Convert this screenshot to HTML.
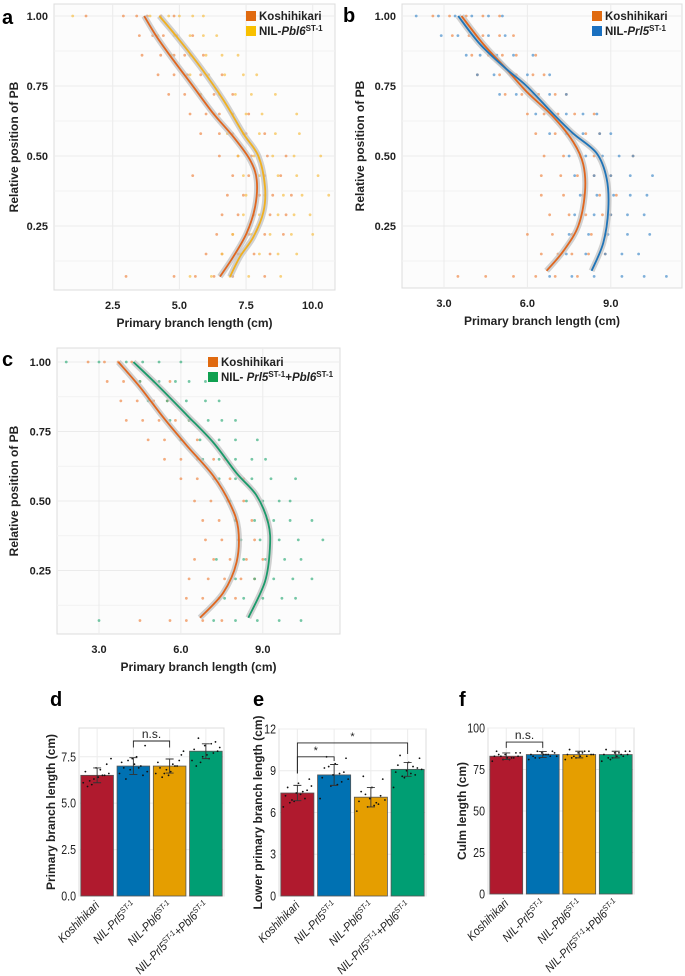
<!DOCTYPE html>
<html><head><meta charset="utf-8">
<style>
body{margin:0;background:#fff;}
svg{display:block;font-family:"Liberation Sans",sans-serif;}
</style></head>
<body>
<svg id="fig" width="685" height="976" viewBox="0 0 685 976" xmlns="http://www.w3.org/2000/svg"></svg>
<script>
// ---------- data: scatter panels ----------
const levels = [1.0,0.93,0.86,0.79,0.72,0.65,0.58,0.5,0.43,0.36,0.29,0.22,0.15,0.07];
const koshA_dots = [[2.9,3.4,3.8,4.3,4.8,1.5],[3.5,4.0,4.4,4.9,5.5],[3.6,4.3,4.8,5.2,5.9],[4.2,4.8,5.3,5.8,6.6],[4.6,5.2,5.8,6.3,7.0],[5.4,6.0,6.5,7.0,7.6],[5.8,6.5,7.0,7.5,8.2],[6.5,7.2,7.7,8.3,9.0],[5.5,7.0,7.6,8.2,8.8],[6.8,7.4,8.0,8.5,9.2],[6.6,7.2,7.8,8.4,9.0],[6.4,7.0,7.6,8.2,8.9],[6.0,6.6,7.2,7.8,8.4],[3.0,4.8,5.6,6.3,7.0,8.2]];
const pbl6A_dots = [[3.9,4.6,5.0,5.5,5.9,1.0],[4.2,4.8,5.4,5.9,6.4],[4.7,5.4,6.0,6.6,7.2],[5.4,6.1,6.7,7.4,7.9],[5.8,6.5,7.1,7.7,8.6],[6.3,7.0,7.5,8.1,9.4],[6.8,7.4,8.0,8.6,9.5],[7.2,7.8,8.5,9.3,10.3],[7.4,8.0,8.7,9.4,10.2],[7.5,8.2,8.9,9.6,10.6],[7.4,8.0,8.7,9.3,9.9],[7.0,7.7,8.4,9.2,10.0],[6.6,7.3,8.0,8.7,9.4],[5.4,6.2,6.9,7.6,8.8]];
const koshB_dots = [[2.6,3.2,3.8,4.4,5.0],[3.3,3.9,4.4,5.0,5.5],[4.0,4.6,5.1,5.6,6.3],[4.2,5.0,5.6,6.2,6.6],[5.2,5.8,6.4,7.0,7.4],[6.0,6.6,7.1,7.7,8.4],[6.3,7.0,7.6,8.1,8.6],[6.6,7.3,7.9,8.4,9.8],[6.5,7.2,7.8,8.4,9.0],[6.5,7.3,8.0,8.6,9.2],[6.8,7.5,8.1,8.7,9.0],[6.0,6.9,7.6,8.3,8.8],[6.5,7.1,7.6,8.2,8.8],[3.5,4.5,5.5,6.3,7.0,7.8]];
const prl5B_dots = [[2.0,2.8,3.4,4.0,4.6,5.1],[2.9,3.5,4.1,4.6,5.2],[3.8,4.3,4.9,5.5,6.2],[4.2,4.8,5.4,6.0,6.8],[5.0,5.6,6.2,6.8,7.4],[6.3,6.9,7.4,8.0,8.5],[6.8,7.4,8.0,8.6,9.0],[7.5,8.1,8.7,9.3,9.8],[7.7,8.4,9.0,9.7,10.5],[7.9,8.5,9.1,9.7,10.3],[7.7,8.4,9.0,9.6,10.2],[7.5,8.2,8.9,9.6,10.4],[7.4,8.1,8.8,9.4,10.0],[6.8,7.6,8.4,9.4,10.2,11.0]];
const koshC_dots = [[2.6,3.2,3.7,4.2],[3.3,3.9,4.5,5.0,5.6],[3.8,4.4,5.0,5.5],[4.0,4.6,5.2,5.8,6.3],[4.8,5.4,6.0,6.6],[5.4,6.0,6.6,7.2,7.6],[6.0,6.6,7.2,7.8,8.3],[6.5,7.1,7.7,8.3],[6.8,7.4,8.0,8.6,9.2],[6.9,7.5,8.1,8.7],[6.5,7.2,7.8,8.4,9.0],[6.3,7.0,7.6,8.2,8.7],[6.2,6.8,7.4,8.0],[4.5,5.6,6.2,6.8,7.5]];
const combC_dots = [[1.8,3.0,4.0,4.6,5.2,6.0],[4.5,5.2,5.8,6.3,6.9],[4.8,5.5,6.2,6.9,7.4],[5.6,6.3,7.0,7.5,8.0],[6.0,6.7,7.4,8.0,8.8],[6.8,7.4,8.0,8.6,9.1],[7.4,8.0,8.6,9.3,10.2],[7.8,8.4,9.0,9.6,10.0],[8.0,8.7,9.4,10.0,10.8],[8.2,8.9,9.6,10.3,11.2],[7.3,8.3,9.1,9.8,10.4],[8.0,8.7,9.4,10.1,10.8],[7.6,8.3,9.0,9.7,10.2],[3.0,7.2,8.0,8.8,9.6,10.4]];
const koshA_curveY = [1.0,0.926,0.843,0.748,0.652,0.569,0.486,0.414,0.319,0.224,0.14,0.069];
const koshA_curveX = [3.68,4.15,4.77,5.52,6.27,7.02,7.65,7.90,7.84,7.52,7.02,6.52];
const pbl6A_curveY = [1.0,0.926,0.82,0.70,0.58,0.50,0.39,0.30,0.21,0.14,0.069];
const pbl6A_curveX = [4.25,4.9,5.77,6.65,7.4,7.96,8.21,8.15,7.77,7.27,6.9];
const koshB_curveY = [1.0,0.9,0.81,0.73,0.64,0.55,0.47,0.37,0.25,0.16,0.09];
const koshB_curveX = [3.63,4.41,5.25,5.97,6.93,7.65,8.01,8.07,7.83,7.29,6.69];
const prl5B_curveY = [1.0,0.9,0.81,0.75,0.65,0.58,0.51,0.42,0.31,0.19,0.09];
const prl5B_curveX = [3.51,4.29,5.25,5.97,6.93,7.65,8.49,8.85,8.91,8.73,8.31];
const koshC_curveY = [1.0,0.91,0.80,0.70,0.59,0.49,0.40,0.28,0.17,0.08];
const koshC_curveX = [3.71,4.5,5.36,6.21,7.19,7.8,8.1,8.04,7.55,6.7];
const combC_curveY = [1.0,0.92,0.81,0.71,0.60,0.52,0.42,0.33,0.21,0.08];
const combC_curveX = [4.26,5.11,6.21,7.19,8.04,8.77,9.2,9.26,9.08,8.47];
const ticksA_x = [2.5,5.0,7.5,10.0];
const ticksBC_x = [3.0,6.0,9.0];
const ticks_y = [0.25,0.50,0.75,1.00];
// ---------- data: bar panels ----------
const barCats = ["Koshihikari","NIL-Prl5","NIL-Pbl6","NIL-Prl5+Pbl6"];
const barD = [6.5,7.0,7.0,7.8];
const sdD = [0.4,0.45,0.38,0.4];
const barE = [7.4,8.7,7.1,9.1];
const sdE = [0.55,0.75,0.7,0.5];
const barF = [83,84,84,84];
const sdF = [2,1.8,2,2];
const ptsD = [[6.1,6.3,6.5,6.7,6.9,7.1,5.9,6.4,6.6,6.2,6.8,7.4,6.0,6.5],[6.6,6.8,7.0,7.2,7.4,6.5,6.9,7.1,8.1,6.3,7.5,6.7,7.3,6.9],[6.6,6.8,7.0,7.2,6.5,7.3,6.9,6.7,7.6,6.4,7.1,7.8,6.6,7.0],[7.3,7.5,7.7,7.9,8.1,8.3,7.0,7.6,7.8,8.5,7.4,8.0,7.2,8.2]];
const ptsE = [[6.4,6.8,7.0,7.2,7.4,7.6,7.8,8.1,8.4,6.7,7.3,7.9,6.9,7.5],[7.0,7.9,8.2,8.5,8.7,8.9,9.2,9.5,9.9,10.0,8.0,8.4,9.3,8.8],[6.1,6.4,6.6,6.8,7.0,7.2,7.5,7.8,8.4,8.6,6.5,6.9,7.3,6.7],[7.8,8.5,8.7,8.9,9.0,9.2,9.4,9.6,9.9,10.1,8.8,9.1,8.6,9.3]];
const ptsF = [[80,81,82,83,84,85,86,82,83,84,81,85,83,82],[81,82,83,84,85,86,83,84,85,82,84,83,86,84],[81,82,83,84,85,86,87,83,84,82,85,84,83,86],[80,82,83,84,85,86,87,83,84,82,85,86,81,84]];

const NS="http://www.w3.org/2000/svg";
const svg=document.getElementById('fig');
function el(tag,attrs,parent,text){const e=document.createElementNS(NS,tag);for(const k in attrs)e.setAttribute(k,attrs[k]);if(text!==undefined)e.textContent=text;(parent||svg).appendChild(e);return e;}
function smoothPath(pts){let d=`M${pts[0][0]},${pts[0][1]}`;for(let i=0;i<pts.length-1;i++){const p0=pts[i-1]||pts[i],p1=pts[i],p2=pts[i+1],p3=pts[i+2]||p2;const c1=[p1[0]+(p2[0]-p0[0])/6,p1[1]+(p2[1]-p0[1])/6],c2=[p2[0]-(p3[0]-p1[0])/6,p2[1]-(p3[1]-p1[1])/6];d+=` C${c1[0]},${c1[1]} ${c2[0]},${c2[1]} ${p2[0]},${p2[1]}`;}return d;}

function scatterPanel(cfg){
  const g=el('g',{});
  
  
  const {L,R,T,B}=cfg;
  const sx=v=>cfg.x0px+(v-cfg.x0)*cfg.xu;
  const sy=v=>cfg.y1px+(1-v)*cfg.yu;
  const bg=el('rect',{x:L,y:T,width:R-L,height:B-T,fill:'#fcfcfc',stroke:'#dcdcdc','stroke-width':1},g);
  
  
  [0.125,0.375,0.625,0.875].forEach(v=>el('line',{x1:L,x2:R,y1:sy(v),y2:sy(v),stroke:'#f2f2f2'},g));
  ticks_y.forEach(v=>el('line',{x1:L,x2:R,y1:sy(v),y2:sy(v),stroke:'#ebebeb'},g));
  cfg.xt.forEach(v=>el('line',{x1:sx(v),x2:sx(v),y1:T,y2:B,stroke:'#ebebeb'},g));
  cfg.series.forEach(s=>{
    levels.forEach((lv,i)=>{
      s.dots[i].forEach(v=>{
        const c=el('circle',{cx:sx(v),cy:sy(lv),r:1.4,fill:s.dot,opacity:0.7},g);
        
        
      });
    });
  });
  cfg.series.forEach(s=>{
    const pts=s.cy.map((y,i)=>[sx(s.cx[i]),sy(y)]);
    const rib=el('path',{d:smoothPath(pts),fill:'none',stroke:'#bdbdbd','stroke-width':6,opacity:0.7,'stroke-linecap':'butt'},g);
    
    
  });
  cfg.series.forEach(s=>{
    const pts=s.cy.map((y,i)=>[sx(s.cx[i]),sy(y)]);
    const ln=el('path',{d:smoothPath(pts),fill:'none',stroke:s.line,'stroke-width':1.8},g);
    
    
  });
  ticks_y.forEach(v=>{const t=el('text',{x:L-6,y:sy(v)+4,'text-anchor':'end','font-size':11,'font-weight':'bold',fill:'#222'},g,v.toFixed(2));
    });
  cfg.xt.forEach(v=>{const t=el('text',{x:sx(v),y:B+19,'text-anchor':'middle','font-size':11,'font-weight':'bold',fill:'#222'},g,v.toFixed(1));
    });
  const xt=el('text',{x:(L+R)/2,y:B+37,'text-anchor':'middle','font-size':12,'font-weight':'bold',fill:'#222'},g,'Primary branch length (cm)');
  
  const yt=el('text',{x:0,y:0,'text-anchor':'middle','font-size':12,'font-weight':'bold',fill:'#222',transform:`translate(${cfg.ytx},${(T+B)/2}) rotate(-90)`},g,'Relative position of PB');
  
  const lt=el('text',{x:cfg.letX,y:cfg.letY,'font-size':20,'font-weight':'bold',fill:'#000'},g,cfg.letter);
  
  cfg.series.forEach((s,i)=>{
    const lg=el('g',{},g);
    
    
    const yy=cfg.legY+i*15;
    el('rect',{x:cfg.legX,y:yy-5,width:10,height:10,fill:s.leg},lg);
    const t=el('text',{x:cfg.legX+13,y:yy+4,'font-size':11.5,'font-weight':'bold',fill:'#222'},lg);
    t.innerHTML=s.label;
  });
}

scatterPanel({name:'panel-a',letter:'a',letX:2,letY:24,L:54,R:335,T:4,B:290,x0:2.5,x0px:112.7,xu:26.67,y1px:16,yu:280,xt:ticksA_x,ytx:18,legX:246,legY:16,
 series:[{key:'koshihikari',dots:koshA_dots,cx:koshA_curveX,cy:koshA_curveY,dot:'#f08a4a',line:'#e0661e',leg:'#e06a10',label:'Koshihikari'},
         {key:'pbl6',dots:pbl6A_dots,cx:pbl6A_curveX,cy:pbl6A_curveY,dot:'#f6c04a',line:'#f0b020',leg:'#f8c000',label:'NIL-<tspan font-style="italic">Pbl6</tspan><tspan dy="-4" font-size="8">ST-1</tspan>'}]});
scatterPanel({name:'panel-b',letter:'b',letX:343,letY:22,L:402,R:682,T:4,B:288,x0:3.0,x0px:444,xu:27.8,y1px:16,yu:280,xt:ticksBC_x,ytx:364,legX:592,legY:16,
 series:[{key:'koshihikari',dots:koshB_dots,cx:koshB_curveX,cy:koshB_curveY,dot:'#f08a4a',line:'#e0661e',leg:'#e06a10',label:'Koshihikari'},
         {key:'prl5',dots:prl5B_dots,cx:prl5B_curveX,cy:prl5B_curveY,dot:'#4a90cc',line:'#1f74b8',leg:'#1a70c0',label:'NIL-<tspan font-style="italic">Prl5</tspan><tspan dy="-4" font-size="8">ST-1</tspan>'}]});
scatterPanel({name:'panel-c',letter:'c',letX:2,letY:366,L:57,R:340,T:348,B:634,x0:3.0,x0px:99,xu:27.3,y1px:362,yu:278,xt:ticksBC_x,ytx:18,legX:208,legY:362,
 series:[{key:'koshihikari',dots:koshC_dots,cx:koshC_curveX,cy:koshC_curveY,dot:'#f08a4a',line:'#e0661e',leg:'#e06a10',label:'Koshihikari'},
         {key:'combo',dots:combC_dots,cx:combC_curveX,cy:combC_curveY,dot:'#3cb080',line:'#1a9a6a',leg:'#10a050',label:'NIL- <tspan font-style="italic">Prl5</tspan><tspan dy="-4" font-size="8">ST-1</tspan><tspan dy="4">+</tspan><tspan font-style="italic">Pbl6</tspan><tspan dy="-4" font-size="8">ST-1</tspan>'}]});

const barColors=['#b01a2e','#0071b2','#e59e00','#009e73'];
const catHTML=['<tspan font-style="italic">Koshihikari</tspan>',
 '<tspan font-style="italic">NIL-Prl5</tspan><tspan dy="-4" font-size="8" font-style="italic">ST-1</tspan>',
 '<tspan font-style="italic">NIL-Pbl6</tspan><tspan dy="-4" font-size="8" font-style="italic">ST-1</tspan>',
 '<tspan font-style="italic">NIL-Prl5</tspan><tspan dy="-4" font-size="8" font-style="italic">ST-1</tspan><tspan dy="4" font-style="italic">+Pbl6</tspan><tspan dy="-4" font-size="8" font-style="italic">ST-1</tspan>'];
function barPanel(cfg){
  const g=el('g',{});
  
  
  const {L,R,T,B,ymax}=cfg;
  const sy=v=>B-(v/ymax)*(B-T);
  const n=barCats.length, slot=(R-L)/n, bw=slot*0.9;
  const cx=i=>L+slot*(i+0.5);
  el('rect',{x:L,y:T,width:R-L,height:B-T,fill:'#fff',stroke:'#dcdcdc'},g);
  cfg.ticks.forEach(v=>{el('line',{x1:L,x2:R,y1:sy(v),y2:sy(v),stroke:'#ececec'},g);
    const t=el('text',{x:L-3,y:sy(v)+4.5,'text-anchor':'end','font-size':12.5,fill:'#222',transform:`translate(${(L-3)*0.15},0) scale(0.85,1)`},g,cfg.tickFmt(v));
    });
  barCats.forEach((c,i)=>el('line',{x1:cx(i),x2:cx(i),y1:T,y2:B,stroke:'#ececec'},g));
  cfg.vals.forEach((v,i)=>{
    const r=el('rect',{x:cx(i)-bw/2,y:sy(v),width:bw,height:B-sy(v),fill:barColors[i],stroke:'#555','stroke-width':0.8},g);
    
    
  });
  cfg.pts.forEach((arr,i)=>arr.forEach((v,j)=>{
    const off=((j*5)%14)/13-0.5;
    const c=el('circle',{cx:cx(i)+off*bw*0.85,cy:sy(v),r:0.9,fill:'#111'},g);
    
    
  }));
  cfg.vals.forEach((v,i)=>{
    const s=cfg.sd[i],x=cx(i);
    const eb=el('path',{d:`M${x-4},${sy(v+s)}H${x+4}M${x},${sy(v+s)}V${sy(v-s)}M${x-4},${sy(v-s)}H${x+4}`,stroke:'#333','stroke-width':0.9,fill:'none'},g);
    
  });
  cfg.brackets.forEach(b=>{
    const x1=cx(b[0]),x2=cx(b[1]),y=sy(b[2]);
    const p=el('path',{d:`M${x1},${sy(b[3])}V${y}H${x2}V${sy(b[4])}`,stroke:'#222','stroke-width':0.9,fill:'none'},g);
    
    const t=el('text',{x:(x1+x2)/2,y:y-3,'text-anchor':'middle','font-size':b[5]==='*'?11:12,fill:'#222'},g,b[5]);
    
  });
  barCats.forEach((c,i)=>{
    const t=el('text',{x:0,y:0,'text-anchor':'end','font-size':12,fill:'#222',transform:`translate(${cx(i)+3},${B+10}) rotate(-45) scale(0.9,1)`},g);
    t.innerHTML=catHTML[i];
    
  });
  const yt=el('text',{x:0,y:0,'text-anchor':'middle','font-size':12,'font-weight':'bold',fill:'#222',transform:`translate(${cfg.ytx},${(T+B)/2}) rotate(-90)`},g,cfg.ytitle);
  
  const lt=el('text',{x:cfg.letX,y:706,'font-size':20,'font-weight':'bold',fill:'#000'},g,cfg.letter);
  
}
barPanel({name:'panel-d',letter:'d',letX:50,L:79,R:224,T:728,B:896,ymax:9.05,ticks:[0,2.5,5,7.5],tickFmt:v=>v.toFixed(1),vals:barD,sd:sdD,pts:ptsD,ytx:55,ytitle:'Primary branch length (cm)',
 brackets:[[1,2,8.35,8.0,8.0,'n.s.']]});
barPanel({name:'panel-e',letter:'e',letX:253,L:279,R:426,T:729,B:896,ymax:12,ticks:[0,3,6,9,12],tickFmt:v=>String(v),vals:barE,sd:sdE,pts:ptsE,ytx:262,ytitle:'Lower primary branch length (cm)',
 brackets:[[0,1,10.0,8.8,9.7,'*'],[0,3,11.0,8.8,10.2,'*']]});
barPanel({name:'panel-f',letter:'f',letX:459,L:488,R:634,T:728,B:894,ymax:100,ticks:[0,25,50,75,100],tickFmt:v=>String(v),vals:barF,sd:sdF,pts:ptsF,ytx:466,ytitle:'Culm length (cm)',
 brackets:[[0,1,91.5,88,88,'n.s.']]});
</script>
</body></html>
